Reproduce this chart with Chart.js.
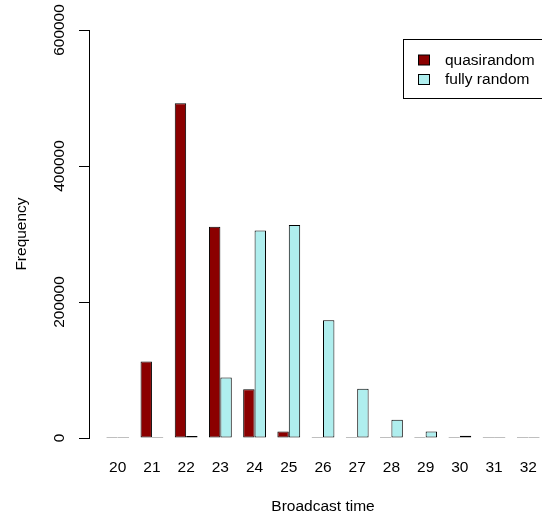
<!DOCTYPE html>
<html>
<head>
<meta charset="utf-8">
<script src="https://cdn.jsdelivr.net/npm/chart.js@4/dist/chart.umd.min.js"></script>
<style>
  html, body { margin: 0; padding: 0; background: #fff; overflow: hidden; }
  #wrap { width: 557px; height: 523px; }
</style>
</head>
<body>
<div id="wrap"><canvas id="chart" width="557" height="523"></canvas></div>
<script>
// broadcast time (rounds) and how often each one occurred
const broadcastTime = [20, 21, 22, 23, 24, 25, 26, 27, 28, 29, 30, 31, 32]
const quasirandom = [1200, 112600, 492400, 310700, 71800, 9500, 700, 1500, 0, 0, 0, 0, 0]
const fullyRandom = [0, 0, 3000, 89000, 305000, 313300, 173000, 72400, 26800, 9500, 3300, 800, 1200]
const yTicks = [0, 200000, 400000, 600000]

const FONT = { family: "'Liberation Sans', Arial, Helvetica, sans-serif", size: 15.5 }

// boxed legend in the top right corner, like base R's legend()
const boxLegend = {
  id: 'boxLegend',
  afterDraw(chart) {
    const { ctx, chartArea } = chart
    const right = chartArea.right - 0.5
    const left = 403.5
    const top = chartArea.top + 9.5
    ctx.save()
    ctx.lineWidth = 1
    ctx.strokeStyle = '#000'
    ctx.strokeRect(left, top, right - left, 59)
    ctx.font = FONT.size + 'px ' + FONT.family
    ctx.textBaseline = 'middle'
    ctx.textAlign = 'left'
    chart.data.datasets.forEach((ds, i) => {
      const cy = top + 20.5 + i * 19.5
      ctx.fillStyle = ds.backgroundColor
      ctx.fillRect(left + 15, cy - 5, 11, 10)
      ctx.strokeRect(left + 15, cy - 5, 11, 10)
      ctx.fillStyle = '#000'
      ctx.fillText(ds.label, left + 41.5, cy + 0.5)
    })
    ctx.restore()
  }
}

const toPoints = arr => arr.map((v, i) => ({ x: broadcastTime[i], y: v }))

new Chart(document.getElementById('chart').getContext('2d'), {
  type: 'bar',
  data: {
    datasets: [
      { label: 'quasirandom', data: toPoints(quasirandom), backgroundColor: '#8B0000' },
      { label: 'fully random', data: toPoints(fullyRandom), backgroundColor: '#AFEEEE' }
    ]
  },
  options: {
    responsive: false,
    animation: false,
    layout: { padding: { top: 30, right: 0, left: 0, bottom: 0 } },
    datasets: {
      bar: {
        borderColor: '#000',
        borderWidth: 1,
        borderSkipped: false,
        categoryPercentage: 2 / 3,
        barPercentage: 1,
        minBarLength: 1
      }
    },
    plugins: { legend: { display: false }, tooltip: { enabled: false } },
    scales: {
      x: {
        type: 'linear',
        min: 19.16,
        max: 32.84,
        offset: false,
        grid: { display: false },
        border: { display: false },
        afterBuildTicks: scale => { scale.ticks = broadcastTime.map(v => ({ value: v })) },
        afterFit: scale => { scale.height = 85 },
        ticks: { autoSkip: false, maxRotation: 0, padding: 12, color: '#000', font: FONT, callback: v => String(v) },
        title: { display: true, text: 'Broadcast time', color: '#000', font: FONT, padding: { top: 0, bottom: 7 } }
      },
      y: {
        min: 0,
        max: 600000,
        grid: { drawOnChartArea: false, tickLength: 10, color: '#000' },
        border: { color: '#000', width: 1 },
        afterBuildTicks: scale => { scale.ticks = yTicks.map(v => ({ value: v })) },
        afterFit: scale => { scale.width = 89 },
        ticks: { minRotation: 90, maxRotation: 90, crossAlign: 'center', padding: -7, color: '#000', font: FONT, callback: v => String(v) },
        title: { display: true, text: 'Frequency', color: '#000', font: FONT, padding: { top: 12, bottom: 0 } }
      }
    }
  },
  plugins: [boxLegend]
})
</script>
</body>
</html>
